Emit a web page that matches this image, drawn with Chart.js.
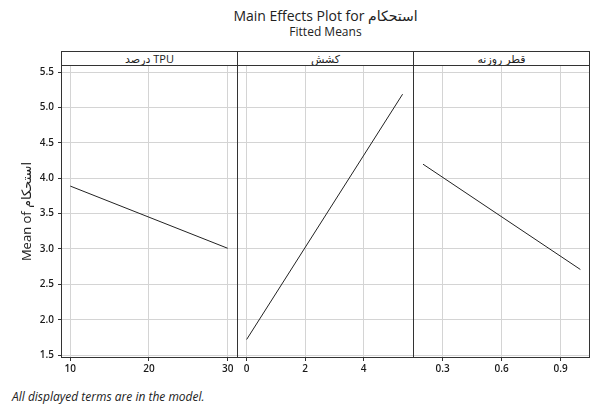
<!DOCTYPE html>
<html>
<head>
<meta charset="utf-8">
<script src="https://cdn.jsdelivr.net/npm/chart.js@4/dist/chart.umd.min.js"></script>
<style>
  body { margin: 0; width: 592px; height: 405px; background: #fff; position: relative; overflow: hidden; font-family: 'Open Sans', 'DejaVu Sans', sans-serif; color: #222; }
  .abs { position: absolute; }
  #title { left: 61px; width: 529px; top: 7px; text-align: center; font-size: 14px; line-height: 17px; }
  #subtitle { left: 61px; width: 529px; top: 24px; text-align: center; font-size: 12px; line-height: 15px; }
  .strip { top: 51px; height: 14px; box-sizing: border-box; border: 1px solid #333; border-bottom: none; text-align: center; font-size: 11px; line-height: 13px; }
  #note { left: 12px; top: 388px; font-size: 12px; font-style: italic; }
  canvas { position: absolute; }
</style>
</head>
<body>
<div id="title" class="abs">Main Effects Plot for استحکام</div>
<div id="subtitle" class="abs">Fitted Means</div>
<div id="strip0" class="abs strip" style="left:61px;width:177px"></div>
<div id="strip1" class="abs strip" style="left:237px;width:177px"></div>
<div id="strip2" class="abs strip" style="left:413px;width:177px"></div>
<!-- first canvas sits 1px higher: chart.js puts its plot area 1px lower there -->
<canvas id="c0" style="left:0;top:55px" width="238" height="325"></canvas>
<canvas id="c1" style="left:237px;top:56px" width="177" height="324"></canvas>
<canvas id="c2" style="left:413px;top:56px" width="177" height="324"></canvas>
<div id="note" class="abs">All displayed terms are in the model.</div>

<script>
const panelLabels = ['درصد TPU', 'کشش', 'قطر روزنه'];
const yTitle = 'Mean of استحکام';

// fitted means at the two ends of each factor range
const tpuX = [10, 30];
const tpuMean = [3.89, 3.01];
const pullX = [0, 5.33];
const pullMean = [1.72, 5.19];
const holeX = [0.2, 1.0];
const holeMean = [4.20, 2.71];

const yTicks = [1.5, 2.0, 2.5, 3.0, 3.5, 4.0, 4.5, 5.0, 5.5];
const tpuTicks = [10, 20, 30];
const pullTicks = [0, 2, 4];
const holeTicks = [0.3, 0.6, 0.9];

const tickFont = { family: "'Open Sans', sans-serif", size: 10, weight: '600' };

// box round each panel
const framePlugin = {
  id: 'frame',
  afterDraw(chart) {
    const a = chart.chartArea;
    const ctx = chart.ctx;
    ctx.save();
    ctx.strokeStyle = '#333';
    ctx.lineWidth = 1;
    ctx.strokeRect(Math.round(a.left) + 0.5, Math.round(a.top) + 0.5, Math.round(a.right - a.left) - 1, Math.round(a.bottom - a.top) - 1);
    ctx.restore();
  },
};

function makePanel(id, xs, ys, xTicks, xMin, xMax, first) {
  const config = {
    type: 'line',
    data: {
      datasets: [
        {
          data: xs.map((x, i) => ({ x: x, y: ys[i] })),
          borderColor: '#222',
          borderWidth: 1,
          pointRadius: 0,
          tension: 0,
        },
      ],
    },
    options: {
      responsive: false,
      animation: false,
      layout: { autoPadding: false, padding: { top: 9, left: 0, right: 0, bottom: 0 } },
      plugins: { legend: { display: false }, tooltip: { enabled: false } },
      scales: {
        x: {
          type: 'linear',
          min: xMin,
          max: xMax,
          afterBuildTicks: (s) => { s.ticks = xTicks.map((v) => ({ value: v })); },
          afterFit: (s) => { s.height = 22; },
          grid: { color: '#d4d4d4', lineWidth: 1, tickLength: 3, tickColor: '#333' },
          border: { display: false },
          ticks: { font: tickFont, color: '#1a1a1a', padding: 2, maxRotation: 0 },
        },
        y: {
          min: 1.458,
          max: 5.603,
          afterBuildTicks: (s) => { s.ticks = yTicks.map((v) => ({ value: v })); },
          afterFit: (s) => { s.width = first ? 61 : 0; },
          grid: { color: '#d4d4d4', lineWidth: 1, tickLength: 3, tickColor: '#333', drawTicks: first },
          border: { display: false },
          ticks: {
            display: first,
            font: tickFont,
            color: '#1a1a1a',
            padding: 4,
            callback: (v) => v.toFixed(1),
          },
          title: {
            display: first,
            text: yTitle,
            font: { family: "'Open Sans', 'DejaVu Sans', sans-serif", size: 13 },
            color: '#222',
            padding: { top: 19, bottom: 0 },
          },
        },
      },
    },
    plugins: [framePlugin],
  };
  return new Chart(document.getElementById(id), config);
}

makePanel('c0', tpuX, tpuMean, tpuTicks, 8.82, 31.31, true);
makePanel('c1', pullX, pullMean, pullTicks, -0.33, 5.72, false);
makePanel('c2', holeX, holeMean, holeTicks, 0.149, 1.049, false);

panelLabels.forEach((t, i) => { document.getElementById('strip' + i).textContent = t; });
</script>
</body>
</html>
